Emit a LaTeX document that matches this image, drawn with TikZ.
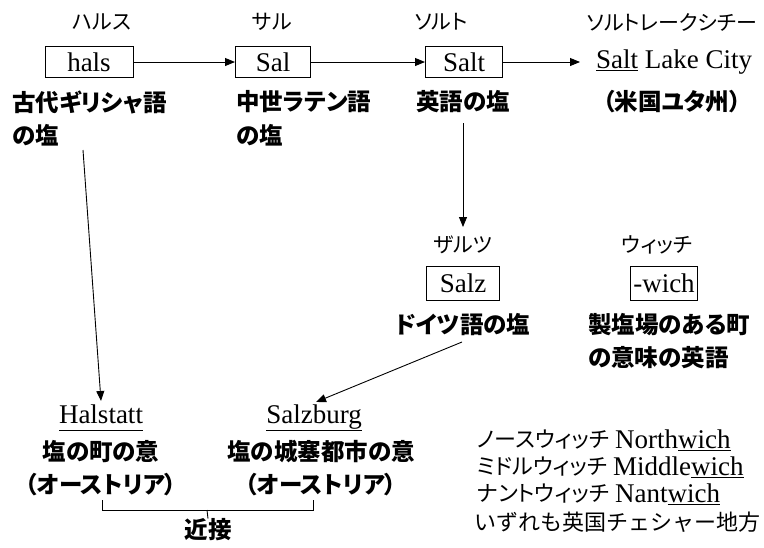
\documentclass[tikz,border=0pt]{standalone}
\usepackage{fontspec}
\setmainfont{Liberation Serif}
\newfontfamily\jp[RawFeature=+palt]{Noto Sans CJK JP}
\newfontfamily\jpf{Noto Sans CJK JP}
\usetikzlibrary{arrows.meta}
\begin{document}
\begin{tikzpicture}[x=1pt,y=-1pt,
 box/.style={draw, line width=1pt, minimum height=31pt, inner sep=0pt, font=\fontsize{27}{27}\selectfont},
 lat/.style={inner sep=0pt, font=\fontsize{27}{27}\selectfont},
 jl/.style={inner sep=0pt, font=\jp\fontsize{21}{21}\selectfont},
 jm/.style={inner sep=0pt, font=\jp\bfseries\fontsize{23.5}{23.5}\selectfont},
 jr/.style={inner sep=0pt, font=\jp\fontsize{22}{22}\selectfont},
 arr/.style={-{Triangle[length=10pt,width=8pt]}, line width=0.9pt},
 ln/.style={line width=0.9pt}]
\useasboundingbox (0,0) rectangle (764,547);
% top row
\node[jl] (lhals) at (102,22) {ハルス};
\node[jl] (lsal) at (272,22) {サル};
\node[jl] (lsalt) at (441,22) {ソルト};
\node[jl] (lslc) at (672,22) {ソルトレークシチー};
\node[box, minimum width=88pt] (hals) at (89,62) {hals};
\node[box, minimum width=75pt] (sal) at (273,62) {Sal};
\node[box, minimum width=77pt] (salt) at (464,62) {Salt};
\node[lat, anchor=west] (slc) at (596,62) {\underline{Salt} Lake City};
\node[jm] (utah) at (672,102) {（米国ユタ州）};
\node[jm, anchor=west] (greek1) at (12,102) {古代ギリシャ語};
\node[jm, anchor=west] (greek2) at (12,135) {の塩};
\node[jm, anchor=west] (latin1) at (236,102) {中世ラテン語};
\node[jm, anchor=west] (latin2) at (236,135) {の塩};
\node[jm] (eng) at (463,102) {英語の塩};
% middle
\node[jl] (lsalz) at (463,245) {ザルツ};
\node[box, minimum width=73pt, minimum height=34pt] (salz) at (463,283) {Salz};
\node[jm] (ger) at (463,325) {ドイツ語の塩};
\node[jl] (lwich) at (657,245) {ウィッチ};
\node[box, minimum width=67pt, minimum height=34pt] (wich) at (664,283) {-wich};
\node[jm, anchor=west] (wich1) at (588,325) {製塩場のある町};
\node[jm, anchor=west] (wich2) at (588,358) {の意味の英語};
% bottom left
\node[lat] (halstatt) at (101,418) {\underline{\vphantom{g}Halstatt}};
\node[jm] (hal2) at (101,452) {塩の町の意};
\node[jm] (hal3) at (101,485) {（オーストリア）};
\node[lat] (salzburg) at (314,418) {\underline{Salzburg}};
\node[jm] (sbg2) at (321,452) {塩の城塞都市の意};
\node[jm] (sbg3) at (321,485) {（オーストリア）};
\node[jm] (near) at (208,530) {近接};
% bottom right list
\node[jr, anchor=west] (n1) at (477,440) {ノースウィッチ};
\node[lat, anchor=west] (n1l) at (615,440) {North\underline{wich}};
\node[jr, anchor=west] (n2) at (477,467) {ミドルウィッチ};
\node[lat, anchor=west] (n2l) at (613,467) {Middle\underline{wich}};
\node[jr, anchor=west] (n3) at (477,494) {ナントウィッチ};
\node[lat, anchor=west] (n3l) at (615,494) {Nant\underline{wich}};
\node[inner sep=0pt, font=\jpf\fontsize{22}{22}\selectfont, anchor=west] (n4) at (474,522) {いずれも英国チェシャー地方};
% connectors
\draw[arr] (hals) -- (sal);
\draw[arr] (sal) -- (salt);
\draw[arr] (salt) -- ([xshift=-16pt]slc.west);
\coordinate (e1) at (463,123);
\coordinate (e2) at (463,227);
\draw[arr] (e1) -- (e2);
\coordinate (h1) at (83,150);
\coordinate (h2) at (101,401);
\draw[arr] (h1) -- (h2);
\coordinate (g1) at (462,342);
\coordinate (g2) at (316,402);
\draw[arr] (g1) -- (g2);
\coordinate (b1) at (102,500);
\coordinate (b2) at (313,500);
\draw[ln] (b1) -- ++(0,10) -| (b2);
\draw[ln] (207,510) -- (near.north);
\end{tikzpicture}
\end{document}
